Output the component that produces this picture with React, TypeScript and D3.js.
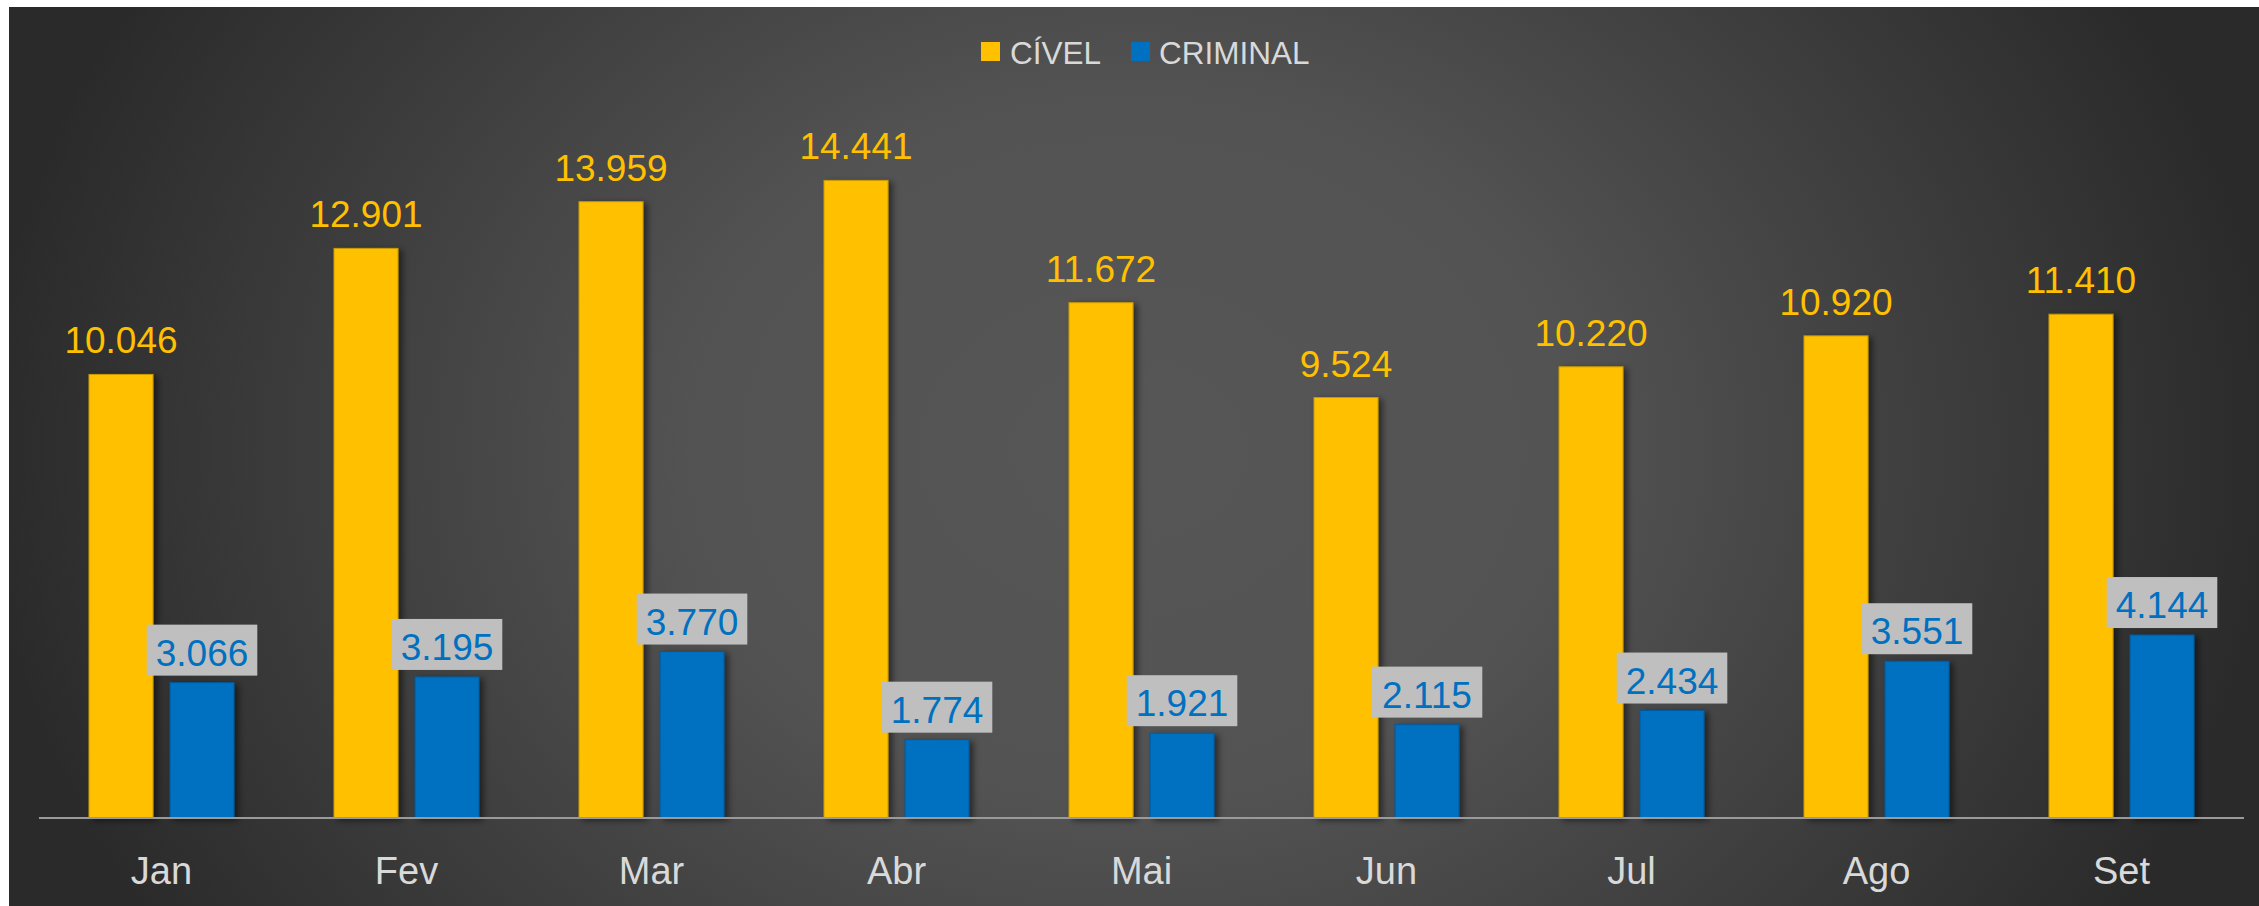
import React from "react";
import * as d3 from "d3";

const months = ["Jan", "Fev", "Mar", "Abr", "Mai", "Jun", "Jul", "Ago", "Set"];
const civel = [10046, 12901, 13959, 14441, 11672, 9524, 10220, 10920, 11410];
const criminal = [3066, 3195, 3770, 1774, 1921, 2115, 2434, 3551, 4144];
const seriesNames = ["CÍVEL", "CRIMINAL"];
const seriesColors = ["#ffc000", "#0070c0"];
const seriesStroke = ["#c99a00", "#005a9c"];

const W = 2259;
const H = 906;
const FONT = "'Liberation Sans', Arial, sans-serif";

const fmt = (v: number) => {
  const s = String(v);
  return s.length > 3 ? s.slice(0, s.length - 3) + "." + s.slice(s.length - 3) : s;
};
const textW = (s: string, size: number) =>
  s.split("").reduce((a, c) => a + (c === "." ? 0.278 : 0.556) * size, 0);

export default function App() {
  const x = d3.scaleBand<string>().domain(months).range([39, 2244]).paddingInner(0).paddingOuter(0);
  const xs = d3
    .scaleBand<string>()
    .domain(seriesNames)
    .range([0, x.bandwidth()])
    .paddingInner(0.21)
    .paddingOuter(0.617);
  const y = d3.scaleLinear().domain([0, 16000]).range([818, 111.6]);
  const base = y(0);
  const labelSize = 37;

  return (
    <svg
      width={W}
      height={H}
      style={{ position: "absolute", left: 0, top: 0, display: "block" }}
    >
      <defs>
        <radialGradient
          id="bg"
          gradientUnits="userSpaceOnUse"
          cx={1130}
          cy={450}
          r={1150}
          gradientTransform="translate(1130,450) scale(1,0.8) translate(-1130,-450)"
        >
          <stop offset="0" stopColor="#565656" />
          <stop offset="0.38" stopColor="#535353" />
          <stop offset="1" stopColor="#2a2a2a" />
        </radialGradient>
        <filter id="sh" x="-30%" y="-10%" width="160%" height="120%">
          <feDropShadow dx="4" dy="2" stdDeviation="3" floodColor="#000" floodOpacity="0.5" />
        </filter>
      </defs>
      <rect x={0} y={0} width={W} height={H} fill="#ffffff" />
      <rect x={9} y={7} width={W - 9} height={H - 7} fill="url(#bg)" />

      {/* legend */}
      <g fontFamily={FONT} fontSize={31.5} fill="#d9d9d9">
        <rect x={981} y={42} width={19} height={19} fill={seriesColors[0]} />
        <text x={1010} y={63.5}>{seriesNames[0]}</text>
        <rect x={1131} y={42} width={19} height={19} fill={seriesColors[1]} />
        <text x={1159} y={63.5}>{seriesNames[1]}</text>
      </g>

      {/* bars */}
      {months.map((m, i) => {
        const x0 = x(m)!;
        const vals = [civel[i], criminal[i]];
        return (
          <g key={m}>
            {vals.map((v, s) => (
              <rect
                key={s}
                x={x0 + xs(seriesNames[s])!}
                y={y(v)}
                width={xs.bandwidth()}
                height={base - y(v)}
                fill={seriesColors[s]}
                stroke={seriesStroke[s]}
                strokeWidth={1}
                filter="url(#sh)"
              />
            ))}
          </g>
        );
      })}

      {/* axis line */}
      <line x1={39} x2={2244} y1={base} y2={base} stroke="#9a9a9a" strokeWidth={2} />

      {/* labels */}
      {months.map((m, i) => {
        const x0 = x(m)!;
        const cx0 = x0 + xs(seriesNames[0])! + xs.bandwidth() / 2;
        const cx1 = x0 + xs(seriesNames[1])! + xs.bandwidth() / 2;
        const l0 = fmt(civel[i]);
        const l1 = fmt(criminal[i]);
        const bw = textW(l1, labelSize) + 18;
        const by = y(criminal[i]) - 7;
        return (
          <g key={m} fontFamily={FONT}>
            <text
              x={cx0}
              y={y(civel[i]) - 21}
              textAnchor="middle"
              fontSize={labelSize}
              fill={seriesColors[0]}
            >
              {l0}
            </text>
            <rect x={cx1 - bw / 2} y={by - 51} width={bw} height={51} fill="#bfbfbf" />
            <text x={cx1} y={by - 10} textAnchor="middle" fontSize={labelSize} fill={seriesColors[1]}>
              {l1}
            </text>
            <text
              x={x0 + x.bandwidth() / 2}
              y={884}
              textAnchor="middle"
              fontSize={38}
              fill="#d9d9d9"
            >
              {m}
            </text>
          </g>
        );
      })}
    </svg>
  );
}
